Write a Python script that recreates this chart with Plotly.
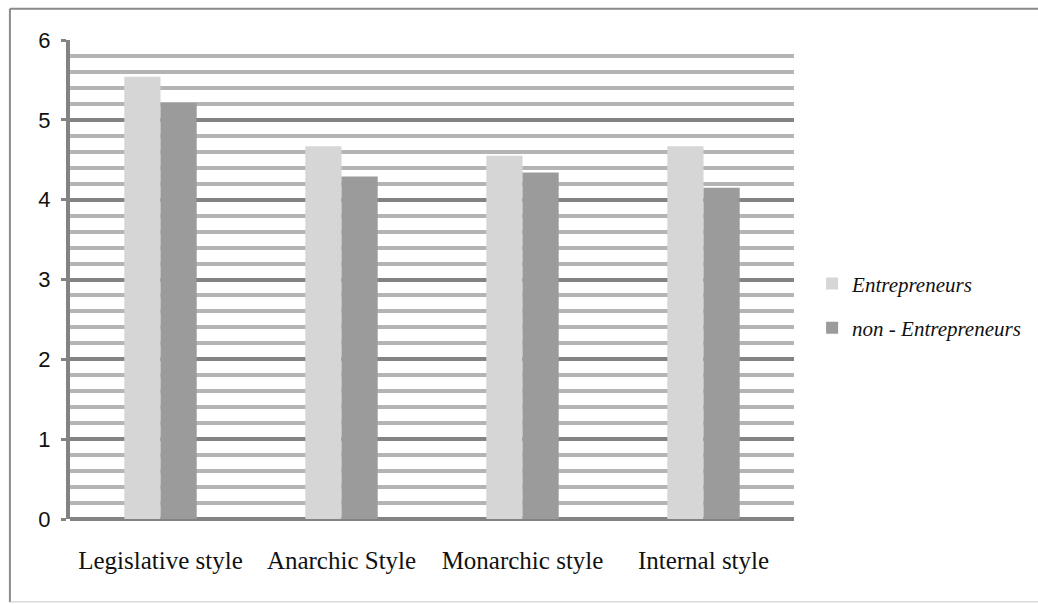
import plotly.graph_objects as go

categories = ["Legislative style", "Anarchic Style", "Monarchic style", "Internal style"]
entrepreneurs = [5.54, 4.67, 4.55, 4.67]
non_entrepreneurs = [5.21, 4.29, 4.34, 4.15]
series_names = ["Entrepreneurs", "non - Entrepreneurs"]
y_ticks = [0, 1, 2, 3, 4, 5, 6]

fig = go.Figure()
fig.add_trace(go.Bar(x=categories, y=entrepreneurs, name=series_names[0],
                     marker=dict(color="#d6d6d6", line=dict(width=0)),
                     legendgroup="a"))
fig.add_trace(go.Bar(x=categories, y=non_entrepreneurs, name=series_names[1],
                     marker=dict(color="#9b9b9b", line=dict(width=0)),
                     legendgroup="b"))

frame_line = dict(color="#8a8a8a", width=2)
fig.update_layout(
    width=1038, height=604,
    margin=dict(l=70, r=244, t=40, b=85),
    paper_bgcolor="white", plot_bgcolor="white",
    barmode="group", bargap=0.6, bargroupgap=0,
    showlegend=True,
    legend=dict(x=1.025, y=0.445, xanchor="left", yanchor="middle",
                font=dict(family="Liberation Serif", size=21, color="#111", style="italic"),
                tracegroupgap=14, bgcolor="rgba(0,0,0,0)"),
    xaxis=dict(showgrid=False, showline=False, ticks="",
               tickfont=dict(family="Liberation Serif", size=25, color="#111"),
               ticklabelstandoff=24),
    yaxis=dict(range=[0, 6], tickvals=y_ticks, showgrid=True,
               gridcolor="#838383", gridwidth=4,
               zeroline=True, zerolinecolor="#838383", zerolinewidth=4,
               showline=True, linecolor="#838383", linewidth=4,
               ticks="outside", ticklen=5, tickwidth=3, tickcolor="#838383",
               tickfont=dict(family="Liberation Sans", size=22, color="#111"),
               ticklabelstandoff=6,
               minor=dict(dtick=0.2, showgrid=True, gridcolor="#b4b4b4", gridwidth=4, ticks="")),
    shapes=[
        dict(type="line", xref="paper", yref="paper", x0=-0.083, x1=1.5, y0=1.065, y1=1.065,
             line=frame_line, layer="below"),
        dict(type="line", xref="paper", yref="paper", x0=-0.083, x1=-0.083, y0=-0.174, y1=1.065,
             line=frame_line, layer="below"),
        dict(type="line", xref="paper", yref="paper", x0=-0.083, x1=1.5, y0=-0.173, y1=-0.173,
             line=dict(color="#c8c8c8", width=1), layer="below"),
    ],
)

fig.write_html(
    "out.html",
    config={"displayModeBar": False},
    post_script="document.body.style.margin='0';document.body.style.overflow='hidden';",
)
